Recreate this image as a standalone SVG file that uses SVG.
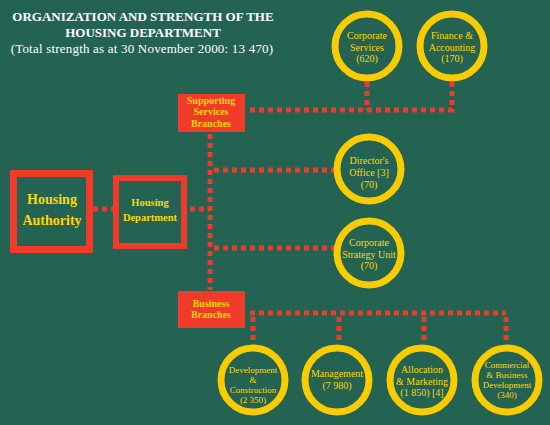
<svg xmlns="http://www.w3.org/2000/svg" width="550" height="425" viewBox="0 0 550 425">
<style>
.title{font-family:"Liberation Serif",serif;font-weight:bold;font-size:13px;fill:#fff;text-anchor:middle}
.sub{font-family:"Liberation Serif",serif;font-size:13px;fill:#fff;text-anchor:middle}
.ring{fill:none;stroke:#f8cc00;stroke-width:7}
.ct{font-family:"Liberation Serif",serif;font-size:10px;fill:#ffd800;text-anchor:middle}
.cs{font-family:"Liberation Serif",serif;font-size:9px;fill:#ffd800;text-anchor:middle}
.box{fill:none;stroke:#f03a2a;stroke-width:7}
.bt{font-family:"Liberation Serif",serif;font-weight:bold;fill:#ffd800;text-anchor:middle}
.rb{fill:#f03a2a}
.dot{fill:none;stroke:#f03a2a;stroke-width:5;stroke-dasharray:5 4}
</style>
<rect width="550" height="425" fill="#246252"/>
<g id="title">
<text class="title" x="143" y="21">ORGANIZATION AND STRENGTH OF THE</text>
<text class="title" x="143" y="37">HOUSING DEPARTMENT</text>
<text class="sub" x="142" y="53" letter-spacing="0.2">(Total strength as at 30 November 2000: 13 470)</text>
</g>
<g id="connectors">
<path class="dot" d="M93 209H113"/>
<path class="dot" d="M190 209H210"/>
<path class="dot" d="M210 134V290"/>
<path class="dot" d="M250 110H452V82"/>
<path class="dot" d="M367 82V110"/>
<path class="dot" d="M214 170H334"/>
<path class="dot" d="M214 248H334"/>
<path class="dot" d="M250 313H506"/>
<path class="dot" d="M253 317V344"/>
<path class="dot" d="M339 317V344"/>
<path class="dot" d="M424 317V344"/>
<path class="dot" d="M506 317V344"/>
</g>
<g id="housing-authority">
<rect class="box" x="13.5" y="173.5" width="76" height="76"/>
<text class="bt" x="52" y="204" font-size="14">Housing</text>
<text class="bt" x="52" y="225" font-size="14">Authority</text>
</g>
<g id="housing-department">
<rect class="box" x="116" y="178" width="68" height="68" style="stroke-width:6"/>
<text class="bt" x="150" y="206" font-size="10.5">Housing</text>
<text class="bt" x="150" y="221" font-size="10.5">Department</text>
</g>
<g id="supporting">
<rect class="rb" x="178" y="94" width="67" height="38"/>
<text class="bt" x="211" y="104" font-size="10">Supporting</text>
<text class="bt" x="211" y="115" font-size="10">Services</text>
<text class="bt" x="211" y="127" font-size="10">Branches</text>
</g>
<g id="business">
<rect class="rb" x="178" y="291" width="67" height="37"/>
<text class="bt" x="211" y="307" font-size="10">Business</text>
<text class="bt" x="211" y="318" font-size="10">Branches</text>
</g>
<g id="corporate-services">
<circle class="ring" cx="367" cy="46" r="32"/>
<text class="ct" x="367" y="39">Corporate</text>
<text class="ct" x="367" y="51">Services</text>
<text class="ct" x="367" y="62">(620)</text>
</g>
<g id="finance">
<circle class="ring" cx="452" cy="46" r="32"/>
<text class="ct" x="452" y="39">Finance &amp;</text>
<text class="ct" x="452" y="51">Accounting</text>
<text class="ct" x="452" y="62">(170)</text>
</g>
<g id="directors-office">
<circle class="ring" cx="369" cy="169" r="32"/>
<text class="ct" x="369" y="164">Director's</text>
<text class="ct" x="369" y="176">Office [3]</text>
<text class="ct" x="369" y="188">(70)</text>
</g>
<g id="strategy">
<circle class="ring" cx="369" cy="253" r="32"/>
<text class="ct" x="369" y="246">Corporate</text>
<text class="ct" x="369" y="258">Strategy Unit</text>
<text class="ct" x="369" y="269">(70)</text>
</g>
<g id="development">
<circle class="ring" cx="253" cy="380" r="32"/>
<text class="cs" x="253" y="373">Development</text>
<text class="cs" x="253" y="383">&amp;</text>
<text class="cs" x="253" y="393">Construction</text>
<text class="cs" x="253" y="403">(2 350)</text>
</g>
<g id="management">
<circle class="ring" cx="337" cy="380" r="32"/>
<text class="ct" x="337" y="377">Management</text>
<text class="ct" x="337" y="389">(7 980)</text>
</g>
<g id="allocation">
<circle class="ring" cx="422" cy="380" r="32"/>
<text class="ct" x="422" y="373">Allocation</text>
<text class="ct" x="422" y="385">&amp; Marketing</text>
<text class="ct" x="422" y="396">(1 850) [4]</text>
</g>
<g id="commercial">
<circle class="ring" cx="507" cy="380" r="32"/>
<text class="cs" x="507" y="368">Commercial</text>
<text class="cs" x="507" y="378">&amp; Business</text>
<text class="cs" x="507" y="388">Development</text>
<text class="cs" x="507" y="398">(340)</text>
</g>
</svg>
